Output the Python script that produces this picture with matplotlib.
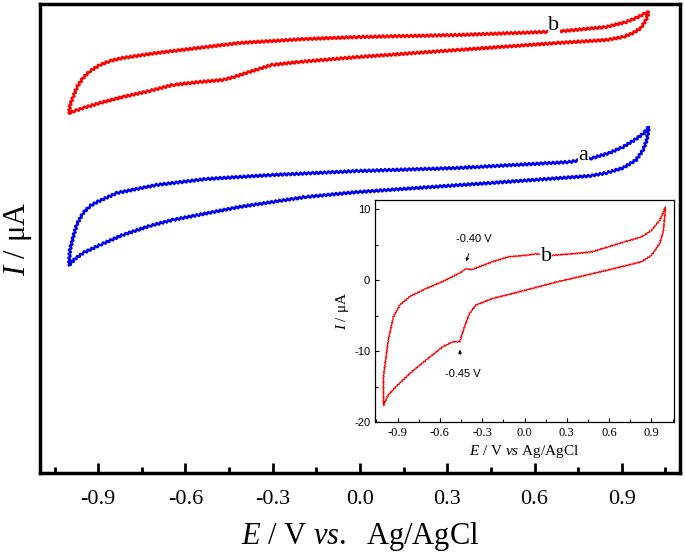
import matplotlib
matplotlib.use("Agg")
import matplotlib.pyplot as plt
from matplotlib.ticker import MultipleLocator, FormatStrFormatter

plt.rcParams['font.family'] = ['Liberation Serif', 'DejaVu Serif']
plt.rcParams['mathtext.fontset'] = 'custom'
plt.rcParams['mathtext.rm'] = 'Liberation Serif'
plt.rcParams['mathtext.it'] = 'Liberation Serif:italic'
plt.rcParams['axes.unicode_minus'] = False

# --- main plot data (y in arbitrary units) ---
a_E = [-1.0, -0.997, -0.986, -0.973, -0.952, -0.928, -0.904, -0.836, -0.70, -0.529, -0.304, -0.007, 0.334,
       0.72, 0.80, 0.857, 0.904, 0.949, 0.976, 0.993,
       0.986, 0.973, 0.949, 0.904, 0.846, 0.788, 0.447, -0.007, -0.188, -0.416, -0.645, -0.724, -0.816,
       -0.894, -0.952, -0.980, -1.0]
a_I = [208, 223, 236, 249, 260, 267, 271, 280, 288, 294, 298, 302, 305,
       311, 315, 320, 326, 334, 340, 346,
       333, 323, 313, 305, 300, 297, 290, 281, 276, 266, 253, 247, 238,
       228, 220, 214, 208]

b_E = [-1.0, -0.997, -0.986, -0.973, -0.952, -0.928, -0.894, -0.860, -0.816, -0.70, -0.529, -0.416, -0.188,
       -0.007, 0.334, 0.631, 0.70, 0.846, 0.915, 0.949, 0.976, 0.993,
       0.983, 0.966, 0.939, 0.904, 0.846, 0.676, 0.334, -0.007, -0.212, -0.304, -0.348, -0.392, -0.433,
       -0.474, -0.553, -0.645, -0.724, -0.816, -0.894, -0.952, -0.980, -1.0]
b_I = [360, 368, 376, 386, 395, 402, 408, 412, 415, 420, 426, 430, 434,
       436, 438, 441, 442, 446, 451, 455, 459, 461,
       453, 445, 440, 436, 433, 430, 423, 416, 411, 408, 404, 400, 396,
       393, 391, 388, 382, 376, 370, 365, 362, 360]

# --- inset data, curve b in uA ---
ins_E = [-1.0, -1.0, -0.966, -0.93, -0.884, -0.813, -0.70, -0.58, -0.46, -0.415, -0.37, -0.227, -0.11, 0.01, 0.08,
         0.196, 0.36, 0.48, 0.595, 0.71, 0.83, 0.90, 0.96, 1.0,
         0.985, 0.96, 0.90, 0.83, 0.71, 0.48, 0.24, 0.01, -0.227, -0.344, -0.39, -0.426, -0.46, -0.51, -0.58,
         -0.70, -0.81, -0.91, -0.966, -1.0]
ins_I = [-17.6, -13.6, -8.5, -5.2, -3.5, -2.3, -1.2, -0.2, 1.0, 1.6, 1.5, 2.6, 3.3, 3.5, 3.7,
         3.5, 3.75, 4.0, 4.7, 5.4, 6.1, 7.0, 8.5, 10.3,
         7.0, 5.2, 3.5, 2.6, 2.0, 0.9, -0.2, -1.4, -2.6, -3.5, -4.7, -6.6, -8.7, -8.7, -9.4,
         -11.3, -13.1, -15.0, -16.2, -17.6]

fig = plt.figure(figsize=(6.85, 5.52), dpi=100)
ax = fig.add_axes([40/685, 1-473/552, 640/685, 469/552])

la, = ax.plot(a_E, a_I, color='#0000ee', lw=1.8)
lb, = ax.plot(b_E, b_I, color='red', lw=1.8)
for ln in (la, lb):
    ln.set_sketch_params(scale=1.1, length=4, randomness=1)

ax.text(0.768, 318, 'a', fontsize=16, ha='center', va='center',
        bbox=dict(facecolor='white', edgecolor='none', pad=0.5))
ax.text(0.666, 447, 'b', fontsize=16, ha='center', va='center',
        bbox=dict(facecolor='white', edgecolor='none', pad=0.5))

ax.set_xlim(-1.1, 1.1)
ax.set_ylim(0, 469)
ax.set_yticks([])
ax.xaxis.set_major_locator(MultipleLocator(0.3))
ax.xaxis.set_minor_locator(MultipleLocator(0.15))
ax.xaxis.set_major_formatter(FormatStrFormatter('%.1f'))
ax.tick_params(axis='x', which='major', direction='in', length=7, width=2, labelsize=16, pad=12)
ax.tick_params(axis='x', which='minor', direction='in', length=4, width=2)
for s in ax.spines.values():
    s.set_linewidth(2.5)
ax.set_xlabel(r'$E$ / V $vs.$  Ag/AgCl', fontsize=22, labelpad=8)
ax.set_ylabel(r'$I$ / μA', fontsize=22, labelpad=4)

# --- inset ---
ins = fig.add_axes([375/685, 1-422/552, 299/685, 222/552])
ins.set_facecolor('white')
li, = ins.plot(ins_E, ins_I, color='red', lw=0.9)
li.set_sketch_params(scale=0.7, length=2.5, randomness=1)
ins.set_xlim(-1.06, 1.06)
ins.set_ylim(-20, 11.3)
ins.xaxis.set_major_locator(MultipleLocator(0.3))
ins.xaxis.set_minor_locator(MultipleLocator(0.15))
ins.xaxis.set_major_formatter(FormatStrFormatter('%.1f'))
ins.yaxis.set_major_locator(MultipleLocator(10))
ins.yaxis.set_minor_locator(MultipleLocator(5))
ins.tick_params(which='major', direction='in', length=3, width=0.8, labelsize=9)
ins.tick_params(which='minor', direction='in', length=2, width=0.8)
for lab in ins.get_yticklabels():
    lab.set_family('Liberation Sans')
    lab.set_fontsize(8)
for s in ins.spines.values():
    s.set_linewidth(0.9)
ins.set_xlabel(r'$E$ / V $vs$ Ag/AgCl', fontsize=11, labelpad=3)
ins.set_ylabel(r'$I$ / μA', fontsize=11, labelpad=2)

ins.text(0.154, 3.4, 'b', fontsize=16, ha='center', va='center',
         bbox=dict(facecolor='white', edgecolor='none', pad=0.3))
ins.annotate('-0.40 V', xy=(-0.414, 2.6), xytext=(-0.36, 5.8), ha='center', va='center',
             fontsize=8, family='Liberation Sans',
             arrowprops=dict(arrowstyle='-|>', color='black', lw=0.6, mutation_scale=5, shrinkA=5, shrinkB=0))
ins.annotate('-0.45 V', xy=(-0.46, -9.8), xytext=(-0.44, -13.2), ha='center', va='center',
             fontsize=8, family='Liberation Sans',
             arrowprops=dict(arrowstyle='-|>', color='black', lw=0.6, mutation_scale=5, shrinkA=8, shrinkB=0))

fig.savefig('out.png', dpi=100)
